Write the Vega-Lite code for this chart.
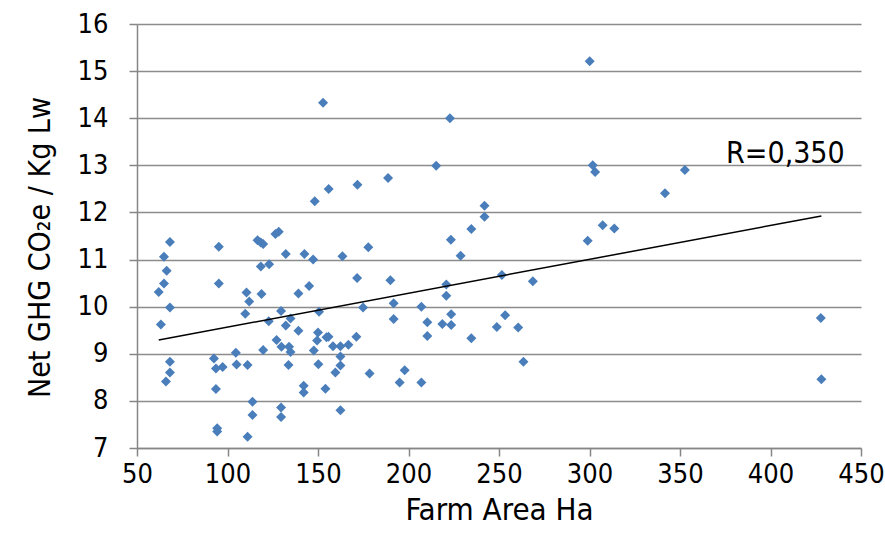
{
  "$schema": "https://vega.github.io/schema/vega-lite/v6.json",
  "width": 724,
  "height": 424,
  "autosize": {"type": "none"},
  "padding": {"left": 137, "top": 24, "right": 24, "bottom": 101},
  "background": "white",
  "config": {
    "view": {"stroke": null},
    "font": "Liberation Sans Narrow, Arial Narrow, DejaVu Sans Condensed, Roboto, sans-serif"
  },
  "datasets": {
    "farms": [
      {"area": 68.2, "ghg": 11.37}, {"area": 64.9, "ghg": 11.06}, {"area": 66.4, "ghg": 10.76},
      {"area": 64.9, "ghg": 10.49}, {"area": 62.0, "ghg": 10.31}, {"area": 68.2, "ghg": 9.98},
      {"area": 63.2, "ghg": 9.62}, {"area": 68.2, "ghg": 8.83}, {"area": 68.2, "ghg": 8.60},
      {"area": 66.0, "ghg": 8.41}, {"area": 95.2, "ghg": 11.27}, {"area": 95.2, "ghg": 10.49},
      {"area": 92.5, "ghg": 8.90}, {"area": 93.6, "ghg": 8.69}, {"area": 97.3, "ghg": 8.72},
      {"area": 93.6, "ghg": 8.25}, {"area": 94.3, "ghg": 7.42}, {"area": 94.3, "ghg": 7.35},
      {"area": 104.6, "ghg": 9.02}, {"area": 105.0, "ghg": 8.77}, {"area": 110.5, "ghg": 10.30},
      {"area": 112.0, "ghg": 10.11}, {"area": 109.8, "ghg": 9.85}, {"area": 111.1, "ghg": 8.76},
      {"area": 113.8, "ghg": 7.98}, {"area": 113.8, "ghg": 7.70}, {"area": 111.1, "ghg": 7.24},
      {"area": 116.6, "ghg": 11.41}, {"area": 118.4, "ghg": 11.36}, {"area": 119.7, "ghg": 11.33},
      {"area": 118.4, "ghg": 10.85}, {"area": 123.0, "ghg": 10.90}, {"area": 118.8, "ghg": 10.27},
      {"area": 119.7, "ghg": 9.08}, {"area": 126.5, "ghg": 11.54}, {"area": 128.3, "ghg": 11.59},
      {"area": 132.2, "ghg": 11.12}, {"area": 129.6, "ghg": 9.91}, {"area": 122.8, "ghg": 9.69},
      {"area": 132.2, "ghg": 9.60}, {"area": 134.8, "ghg": 9.75}, {"area": 139.2, "ghg": 9.49},
      {"area": 127.1, "ghg": 9.29}, {"area": 129.8, "ghg": 9.15}, {"area": 134.0, "ghg": 9.15},
      {"area": 134.8, "ghg": 9.04}, {"area": 133.7, "ghg": 8.76}, {"area": 129.6, "ghg": 7.86},
      {"area": 129.6, "ghg": 7.66}, {"area": 142.5, "ghg": 11.12}, {"area": 147.3, "ghg": 11.00},
      {"area": 145.1, "ghg": 10.44}, {"area": 139.2, "ghg": 10.28}, {"area": 150.6, "ghg": 9.89},
      {"area": 150.0, "ghg": 9.45}, {"area": 149.5, "ghg": 9.28}, {"area": 154.7, "ghg": 9.35},
      {"area": 155.8, "ghg": 9.36}, {"area": 147.7, "ghg": 9.07}, {"area": 150.2, "ghg": 8.78},
      {"area": 142.1, "ghg": 8.32}, {"area": 142.1, "ghg": 8.18}, {"area": 158.3, "ghg": 9.16},
      {"area": 162.4, "ghg": 9.16}, {"area": 166.8, "ghg": 9.19}, {"area": 162.4, "ghg": 8.94},
      {"area": 162.4, "ghg": 8.75}, {"area": 159.6, "ghg": 8.60}, {"area": 154.1, "ghg": 8.26},
      {"area": 162.4, "ghg": 7.80}, {"area": 163.5, "ghg": 11.07}, {"area": 171.2, "ghg": 9.36},
      {"area": 171.6, "ghg": 10.61}, {"area": 174.9, "ghg": 9.98}, {"area": 177.8, "ghg": 11.26},
      {"area": 178.5, "ghg": 8.58}, {"area": 152.8, "ghg": 14.33}, {"area": 148.2, "ghg": 12.24},
      {"area": 155.9, "ghg": 12.50}, {"area": 171.8, "ghg": 12.59}, {"area": 300.1, "ghg": 15.21},
      {"area": 222.9, "ghg": 14.00}, {"area": 215.3, "ghg": 12.99}, {"area": 188.7, "ghg": 12.73},
      {"area": 301.8, "ghg": 13.00}, {"area": 303.1, "ghg": 12.86}, {"area": 242.0, "ghg": 12.14},
      {"area": 242.0, "ghg": 11.91}, {"area": 234.7, "ghg": 11.65}, {"area": 307.3, "ghg": 11.73},
      {"area": 313.7, "ghg": 11.66}, {"area": 223.4, "ghg": 11.42}, {"area": 299.0, "ghg": 11.40},
      {"area": 228.8, "ghg": 11.08}, {"area": 190.0, "ghg": 10.56}, {"area": 191.8, "ghg": 10.07},
      {"area": 191.8, "ghg": 9.74}, {"area": 220.9, "ghg": 10.47}, {"area": 220.9, "ghg": 10.23},
      {"area": 207.1, "ghg": 10.00}, {"area": 210.4, "ghg": 9.67}, {"area": 210.4, "ghg": 9.38},
      {"area": 218.7, "ghg": 9.63}, {"area": 223.6, "ghg": 9.84}, {"area": 223.6, "ghg": 9.61},
      {"area": 234.7, "ghg": 9.33}, {"area": 251.6, "ghg": 10.67}, {"area": 253.4, "ghg": 9.82},
      {"area": 248.8, "ghg": 9.57}, {"area": 260.6, "ghg": 9.56}, {"area": 268.7, "ghg": 10.54},
      {"area": 263.5, "ghg": 8.83}, {"area": 197.9, "ghg": 8.65}, {"area": 195.1, "ghg": 8.39},
      {"area": 207.1, "ghg": 8.39}, {"area": 352.7, "ghg": 12.90}, {"area": 341.7, "ghg": 12.41},
      {"area": 427.8, "ghg": 9.76}, {"area": 428.1, "ghg": 8.46}
    ],
    "note": [{"label": "R=0,350", "area": 441, "ghg": 13.05}]
  },
  "encoding": {
    "x": {
      "field": "area", "type": "quantitative",
      "scale": {"domain": [50, 450], "nice": false, "zero": false},
      "axis": {
        "title": "Farm Area Ha", "values": [50, 100, 150, 200, 250, 300, 350, 400, 450],
        "grid": false, "domainColor": "#868686", "domainWidth": 1.5,
        "tickColor": "#868686", "tickWidth": 1.5, "tickSize": 8,
        "labelFontSize": 27, "labelColor": "#000", "labelPadding": 5,
        "titleFontSize": 31, "titleFontWeight": "normal", "titleColor": "#000", "titlePadding": 8,
        "labelFlush": false
      }
    },
    "y": {
      "field": "ghg", "type": "quantitative",
      "scale": {"domain": [7, 16], "nice": false, "zero": false},
      "axis": {
        "title": "Net GHG CO₂e / Kg Lw", "values": [7, 8, 9, 10, 11, 12, 13, 14, 15, 16],
        "grid": true, "gridColor": "#8c8c8c", "gridWidth": 1.5,
        "domainColor": "#868686", "domainWidth": 1.5,
        "tickColor": "#868686", "tickWidth": 1.5, "tickSize": 8,
        "labelFontSize": 27, "labelColor": "#000", "labelPadding": 21,
        "titleFontSize": 30, "titleFontWeight": "normal", "titleColor": "#000", "titlePadding": 22,
        "titleY": 223,
        "labelFlush": false
      }
    }
  },
  "layer": [
    {
      "data": {"name": "farms"},
      "mark": {"type": "point", "shape": "diamond", "filled": true, "size": 100, "color": "#4a7ebb", "opacity": 1}
    },
    {
      "data": {"name": "farms"},
      "transform": [{"regression": "ghg", "on": "area"}],
      "mark": {"type": "line", "color": "#000", "strokeWidth": 1.5},
      "encoding": {}
    },
    {
      "data": {"name": "note"},
      "mark": {"type": "text", "align": "right", "baseline": "alphabetic", "fontSize": 30, "color": "#000"},
      "encoding": {"text": {"field": "label"}}
    }
  ]
}
